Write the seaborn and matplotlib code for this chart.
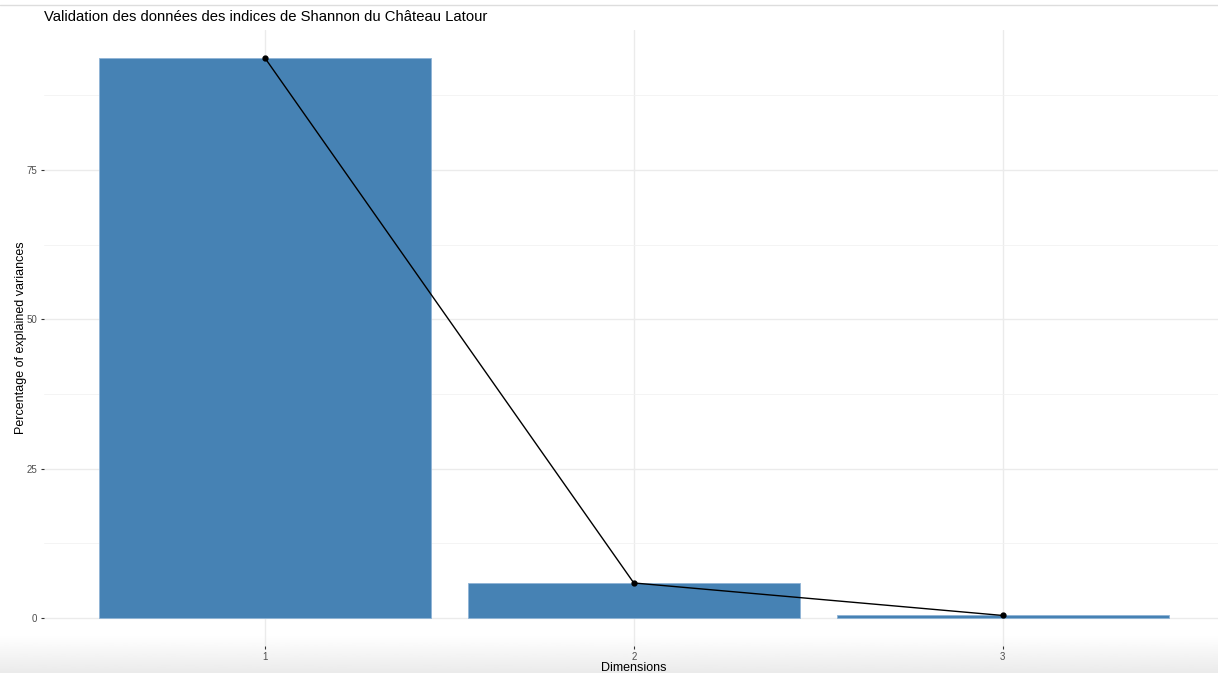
import numpy as np
import pandas as pd
import matplotlib
matplotlib.use("Agg")
import matplotlib.pyplot as plt
import seaborn as sns
from matplotlib.lines import Line2D

dimensions = ["1", "2", "3"]
variances = [93.72, 5.86, 0.42]
title = "Validation des données des indices de Shannon du Château Latour"
xlabel = "Dimensions"
ylabel = "Percentage of explained variances"
yticks = [0, 25, 50, 75]

sns.set_theme(style="white")
plt.rcParams['font.family'] = ['Liberation Sans', 'DejaVu Sans']

W, H = 1218, 673
fig = plt.figure(figsize=(W / 100, H / 100), dpi=100)
fig.patch.set_facecolor("white")

# bottom screenshot shadow gradient
gax = fig.add_axes([0, 0, 1, 38 / H], zorder=0)
grad = np.linspace(0.92, 1.0, 100).reshape(-1, 1)
gax.imshow(grad, aspect="auto", cmap="gray", vmin=0, vmax=1, origin="lower",
           extent=[0, 1, 0, 1])
gax.set_axis_off()

# top separator line
fig.add_artist(Line2D([0, 1], [1 - 5 / H, 1 - 5 / H], transform=fig.transFigure,
                      color="#dddddd", lw=1))

left_px, right_px, top_px, bot_px = 43.6, 1224, 30, 646
ax = fig.add_axes([left_px / W, (H - bot_px) / H, (right_px - left_px) / W,
                   (bot_px - top_px) / H], zorder=1)
ax.patch.set_alpha(0)

df = pd.DataFrame({"dim": dimensions, "var": variances})
sns.barplot(data=df, x="dim", y="var", color="#4682B4", width=0.9,
            saturation=1, ax=ax, zorder=2, edgecolor="#8fb4d6", linewidth=0.6)
ax.plot(range(len(variances)), variances, color="black", lw=1.0,
        marker="o", markersize=3.5, zorder=3)

ax.set_xlim(-0.6, 2.6)
ax.set_ylim(-4.69, 98.4)
ax.set_yticks(yticks)
ax.set_yticks([12.5, 37.5, 62.5, 87.5], minor=True)
ax.grid(True, which="major", color="#ebebeb", lw=1.0, zorder=0)
ax.grid(True, which="minor", axis="y", color="#f2f2f2", lw=0.6, zorder=0)
ax.set_axisbelow(True)
for s in ax.spines.values():
    s.set_visible(False)
ax.tick_params(axis="both", which="major", length=2.5, width=0.8,
               color="#333333", labelsize=7, labelcolor="#4d4d4d", pad=2,
               left=True, bottom=True)
ax.tick_params(which="minor", length=0)

ax.set_xlabel(xlabel, fontsize=9, color="black", labelpad=-0.5)
ax.set_ylabel(ylabel, fontsize=9, color="black", labelpad=0)
fig.text(44 / W, 1 - 17 / H, title, fontsize=10.7, color="black",
         ha="left", va="center")

fig.savefig("out.png", dpi=100, facecolor="white")
